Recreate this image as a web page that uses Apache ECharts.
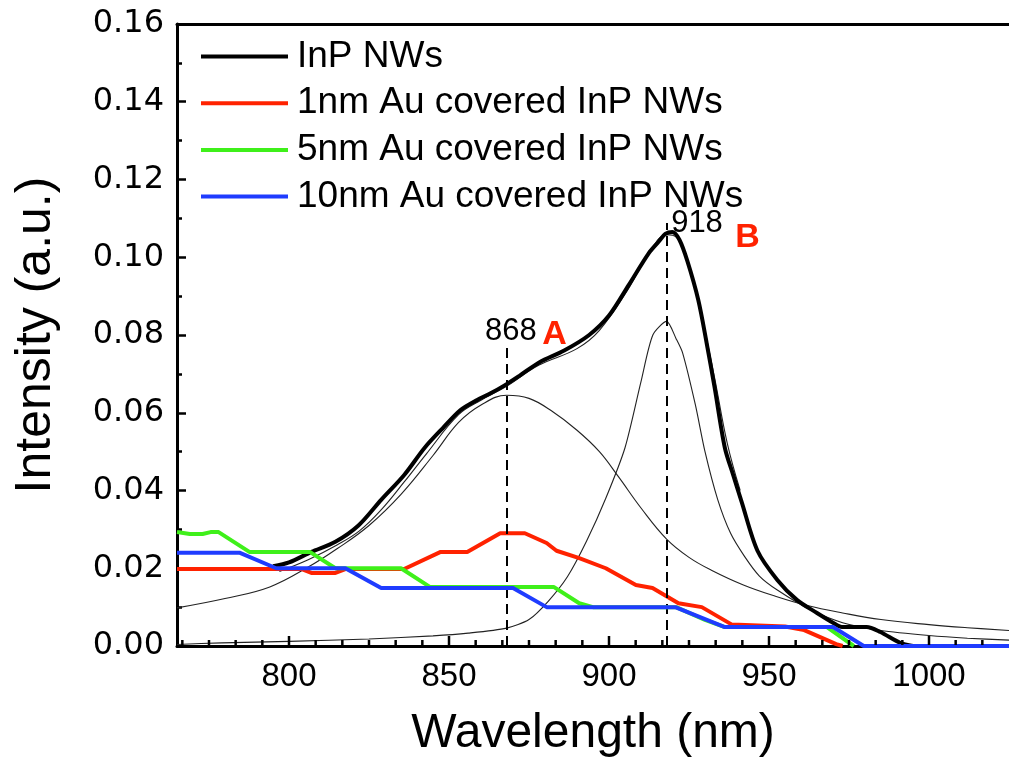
<!DOCTYPE html>
<html>
<head>
<meta charset="utf-8">
<script src="https://cdn.jsdelivr.net/npm/echarts@6/dist/echarts.min.js"></script>
<style>html,body{margin:0;padding:0;background:#fff}#c{width:1009px;height:774px}</style>
</head>
<body>
<div id="c"></div>
<script>
// ---- data ----
const seriesNames = ['InP NWs', '1nm Au covered InP NWs', '5nm Au covered InP NWs', '10nm Au covered InP NWs'];

const inpX = [795, 800, 807, 814.5, 821.7, 828.8, 836, 842.4, 848, 853.6, 858.8, 863, 867.5, 872, 878.3, 886, 893.8, 900, 906.2, 912.4, 915.5, 917.6, 919.8, 922, 924.5, 927.9, 930.5, 933, 936.2, 938.8, 941.4, 946.4, 952.6, 958.8, 965, 970, 972.8, 980.5, 984.8, 991, 995];
const inpY = [0.0205, 0.0215, 0.0242, 0.0268, 0.031, 0.0376, 0.044, 0.051, 0.056, 0.0607, 0.0633, 0.065, 0.0671, 0.0695, 0.073, 0.076, 0.080, 0.085, 0.0929, 0.101, 0.104, 0.106, 0.1065, 0.1045, 0.099, 0.089, 0.078, 0.0665, 0.051, 0.044, 0.0372, 0.0245, 0.017, 0.0118, 0.0085, 0.006, 0.0049, 0.0049, 0.0036, 0.0008, 0];

const au1X = [765, 804, 807, 814.5, 817.6, 836, 847.4, 855.7, 866, 873.7, 880.5, 883.6, 890.7, 899, 908.4, 913.6, 921.7, 929, 938.4, 955, 961, 966, 971, 973];
const au1Y = [0.0198, 0.0198, 0.0188, 0.0188, 0.0198, 0.0198, 0.0242, 0.0242, 0.029, 0.029, 0.0265, 0.0245, 0.0226, 0.020, 0.0157, 0.0149, 0.011, 0.010, 0.0055, 0.005, 0.0041, 0.0023, 0.0005, 0];

const au5X = [765, 769, 773, 775.5, 778, 787.6, 806.5, 814.5, 835, 844, 882.7, 890.7, 895, 921, 930, 936, 968, 976.5];
const au5Y = [0.0293, 0.0288, 0.0288, 0.0293, 0.0293, 0.0242, 0.0242, 0.020, 0.020, 0.0152, 0.0152, 0.011, 0.010, 0.010, 0.0067, 0.0049, 0.0049, 0];

const au10X = [765, 784.5, 796, 817.6, 828.8, 870, 880.5, 920.7, 936, 970, 979.6, 1025];
const au10Y = [0.024, 0.024, 0.020, 0.020, 0.0149, 0.0149, 0.010, 0.010, 0.0049, 0.0049, 0, 0];

// fitted curves (thin black)
const fitSumX = [797, 806, 815, 822, 829, 836, 843, 853, 860, 868, 878, 890, 897, 906, 912, 918, 921, 924, 927, 930, 933, 937, 941];
const fitSumY = [0.0192, 0.0222, 0.026, 0.0296, 0.0352, 0.0422, 0.0495, 0.0595, 0.0632, 0.0668, 0.0722, 0.0765, 0.0812, 0.0918, 0.1003, 0.1058, 0.1052, 0.1005, 0.092, 0.081, 0.069, 0.052, 0.040];

const fitAX = [765, 780, 794, 806, 815, 825, 835, 845, 853, 860, 868, 875, 882, 890, 897, 903, 910, 918, 925, 932, 942, 952, 962, 973, 985, 1000, 1012, 1025];
const fitAY = [0.0098, 0.0122, 0.0152, 0.0203, 0.025, 0.031, 0.039, 0.049, 0.0575, 0.062, 0.0645, 0.0637, 0.0605, 0.0555, 0.050, 0.0435, 0.0355, 0.0275, 0.0228, 0.0195, 0.0157, 0.0128, 0.0104, 0.0085, 0.0068, 0.0055, 0.0047, 0.004];

const fitBX = [765, 779, 800, 825, 845, 856, 868, 875, 881, 887, 893, 899, 905, 910, 913.7, 918, 921, 923, 927, 930, 934, 938, 942.4, 947, 952.6, 963, 973, 985, 1000, 1012, 1025];
const fitBY = [0.0004, 0.0008, 0.0012, 0.0018, 0.0026, 0.0033, 0.0046, 0.0068, 0.0115, 0.0178, 0.027, 0.038, 0.051, 0.068, 0.080, 0.0835, 0.079, 0.0754, 0.062, 0.050, 0.0376, 0.029, 0.023, 0.018, 0.0144, 0.0093, 0.006, 0.004, 0.0027, 0.002, 0.0015];

// peak markers
const peakX = [868, 918];
const peakTop = [0.0772, 0.1088];
const annotText = ['868', 'A', '918', 'B'];
const annotX = [869.3, 883, 927.5, 943.3];
const annotY = [0.081, 0.080, 0.1086, 0.105];

// axes
const xMin = 765, xMax = 1025;
const xMajor = [800, 850, 900, 950, 1000];
const yTicks = [0, 0.02, 0.04, 0.06, 0.08, 0.10, 0.12, 0.14, 0.16];

// ---- build ----
const pairs = (xs, ys) => xs.map((x, i) => [x, ys[i]]);
const xMinor = [];
for (let m = 750; m <= 1050; m += 50) for (let k = 1; k < 6; k++) { const t = m + k * 50 / 6; if (t > xMin && t < xMax) xMinor.push(t); }

const FONT = "'Liberation Sans', Arial, sans-serif";
const FONT_WIDE = "'DejaVu Sans', 'Liberation Sans', sans-serif";
const chart = echarts.init(document.getElementById('c'), null, { renderer: 'canvas' });

const thin = (name, xs, ys, sm) => ({
  name, type: 'line', data: pairs(xs, ys), showSymbol: false, symbol: 'none', smooth: sm,
  lineStyle: { color: '#222', width: 1.1 }, z: 1, silent: true, clip: false
});
const thick = (name, xs, ys, color, sm, z) => ({
  name, type: 'line', data: pairs(xs, ys), showSymbol: false, symbol: 'none', smooth: sm,
  lineStyle: { color, width: 4 }, itemStyle: { color }, z, silent: true, clip: false
});
const tickSeries = (vals, len) => ({
  type: 'custom', silent: true, clip: false, z: 7,
  data: vals.map(v => [v, 0]), encode: { x: 0, y: 1 },
  renderItem: (params, api) => {
    const p = api.coord([api.value(0), 0]);
    return { type: 'line', shape: { x1: p[0], y1: p[1] - 1, x2: p[0], y2: p[1] - 1 - len }, style: { stroke: '#000', lineWidth: 2.5 } };
  }
});

const inpSeries = thick(seriesNames[0], inpX, inpY, '#000', 0.3, 3);
inpSeries.markLine = {
  silent: true, symbol: 'none', label: { show: false },
  lineStyle: { color: '#000', width: 2, type: [10, 6] },
  data: peakX.map((x, i) => [{ coord: [x, 0] }, { coord: [x, peakTop[i]] }])
};

chart.setOption({
  animation: false,
  backgroundColor: '#fff',
  grid: { left: 177, top: 24, width: (xMax - xMin) * 3.23, height: 622 },
  legend: {
    data: seriesNames, orient: 'vertical', left: 196, top: 33,
    itemWidth: 87, itemHeight: 4, itemGap: 9.7,
    textStyle: { fontFamily: FONT, fontSize: 37, color: '#000', lineHeight: 37, padding: [0, 0, 0, 4] },
    icon: 'rect', selectedMode: false
  },
  xAxis: [
    {
      type: 'value', min: xMin, max: xMax, position: 'bottom',
      name: 'Wavelength (nm)', nameLocation: 'middle', nameGap: 64,
      nameTextStyle: { fontFamily: FONT, fontSize: 48, color: '#000' },
      axisLine: { show: true, onZero: false, lineStyle: { color: '#000', width: 3 } },
      axisTick: { show: false },
      axisLabel: { customValues: xMajor, fontFamily: FONT, fontSize: 33, color: '#000', margin: 14, formatter: v => String(v) },
      splitLine: { show: false }
    },
    {
      type: 'value', min: xMin, max: xMax, position: 'top',
      axisLine: { show: true, onZero: false, lineStyle: { color: '#000', width: 3 } },
      axisTick: { show: false }, axisLabel: { show: false }, splitLine: { show: false }
    }
  ],
  yAxis: {
    type: 'value', min: yTicks[0], max: yTicks[yTicks.length - 1], interval: 0.02,
    name: 'Intensity (a.u.)', nameLocation: 'middle', nameGap: 116,
    nameTextStyle: { fontFamily: FONT, fontSize: 50, color: '#000' },
    axisLine: { show: true, onZero: false, lineStyle: { color: '#000', width: 3 } },
    axisTick: { show: true, inside: true, length: 9, lineStyle: { color: '#000', width: 2.5 } },
    minorTick: { show: true, splitNumber: 2, length: 5, lineStyle: { color: '#000', width: 2.5 } },
    axisLabel: { fontFamily: FONT_WIDE, fontSize: 32, color: '#000', margin: 13, formatter: v => v.toFixed(2) },
    splitLine: { show: false }
  },
  series: [
    thin('fitA', fitAX, fitAY, 0.4),
    thin('fitB', fitBX, fitBY, 0.25),
    thin('fitSum', fitSumX, fitSumY, 0.4),
    inpSeries,
    thick(seriesNames[1], au1X, au1Y, '#ff2200', false, 4),
    thick(seriesNames[2], au5X, au5Y, '#3ff01a', false, 5),
    thick(seriesNames[3], au10X, au10Y, '#1f3cff', false, 6),
    tickSeries(xMajor, 9),
    tickSeries(xMinor, 5),
    {
      name: 'annot', type: 'scatter', symbolSize: 0, silent: true, z: 10,
      itemStyle: { opacity: 1 },
      data: annotText.map((t, i) => ({
        value: [annotX[i], annotY[i]], name: t,
        label: (t === 'A' || t === 'B')
          ? { show: true, position: 'inside', formatter: '{b}', fontFamily: FONT, fontSize: 34, fontWeight: 'bold', color: '#ff2200', opacity: 1 }
          : { show: true, position: 'inside', formatter: '{b}', fontFamily: FONT, fontSize: 31, color: '#000', opacity: 1 }
      }))
    }
  ]
});
</script>
</body>
</html>
